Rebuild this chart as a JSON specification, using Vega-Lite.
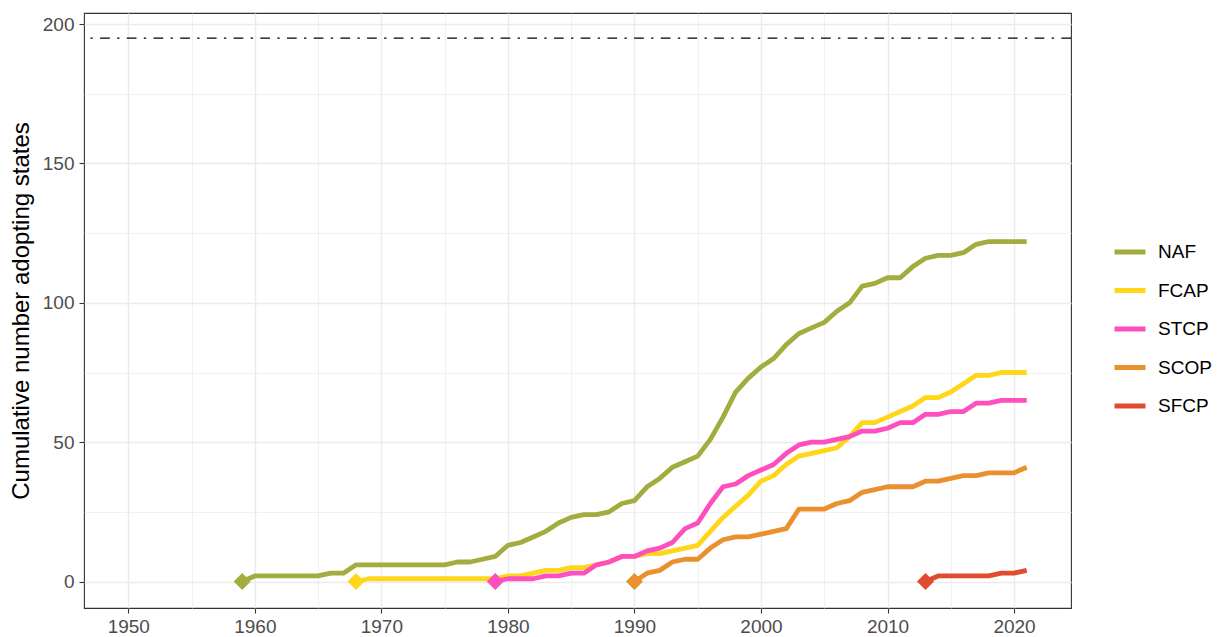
{
  "$schema": "https://vega.github.io/schema/vega-lite/v6.json",
  "width": 987,
  "height": 595,
  "autosize": {"type": "none"},
  "padding": {"left": 84, "top": 13, "right": 146, "bottom": 29},
  "background": "white",
  "config": {
    "font": "Liberation Sans",
    "view": {"stroke": "#333333", "strokeWidth": 1.1},
    "axis": {"domain": false, "grid": true, "gridColor": "#ebebeb"}
  },
  "datasets": {
    "lines": [
      {"series": "NAF", "year": 1959, "n": 0},
      {"series": "NAF", "year": 1960, "n": 2},
      {"series": "NAF", "year": 1961, "n": 2},
      {"series": "NAF", "year": 1962, "n": 2},
      {"series": "NAF", "year": 1963, "n": 2},
      {"series": "NAF", "year": 1964, "n": 2},
      {"series": "NAF", "year": 1965, "n": 2},
      {"series": "NAF", "year": 1966, "n": 3},
      {"series": "NAF", "year": 1967, "n": 3},
      {"series": "NAF", "year": 1968, "n": 6},
      {"series": "NAF", "year": 1969, "n": 6},
      {"series": "NAF", "year": 1970, "n": 6},
      {"series": "NAF", "year": 1971, "n": 6},
      {"series": "NAF", "year": 1972, "n": 6},
      {"series": "NAF", "year": 1973, "n": 6},
      {"series": "NAF", "year": 1974, "n": 6},
      {"series": "NAF", "year": 1975, "n": 6},
      {"series": "NAF", "year": 1976, "n": 7},
      {"series": "NAF", "year": 1977, "n": 7},
      {"series": "NAF", "year": 1978, "n": 8},
      {"series": "NAF", "year": 1979, "n": 9},
      {"series": "NAF", "year": 1980, "n": 13},
      {"series": "NAF", "year": 1981, "n": 14},
      {"series": "NAF", "year": 1982, "n": 16},
      {"series": "NAF", "year": 1983, "n": 18},
      {"series": "NAF", "year": 1984, "n": 21},
      {"series": "NAF", "year": 1985, "n": 23},
      {"series": "NAF", "year": 1986, "n": 24},
      {"series": "NAF", "year": 1987, "n": 24},
      {"series": "NAF", "year": 1988, "n": 25},
      {"series": "NAF", "year": 1989, "n": 28},
      {"series": "NAF", "year": 1990, "n": 29},
      {"series": "NAF", "year": 1991, "n": 34},
      {"series": "NAF", "year": 1992, "n": 37},
      {"series": "NAF", "year": 1993, "n": 41},
      {"series": "NAF", "year": 1994, "n": 43},
      {"series": "NAF", "year": 1995, "n": 45},
      {"series": "NAF", "year": 1996, "n": 51},
      {"series": "NAF", "year": 1997, "n": 59},
      {"series": "NAF", "year": 1998, "n": 68},
      {"series": "NAF", "year": 1999, "n": 73},
      {"series": "NAF", "year": 2000, "n": 77},
      {"series": "NAF", "year": 2001, "n": 80},
      {"series": "NAF", "year": 2002, "n": 85},
      {"series": "NAF", "year": 2003, "n": 89},
      {"series": "NAF", "year": 2004, "n": 91},
      {"series": "NAF", "year": 2005, "n": 93},
      {"series": "NAF", "year": 2006, "n": 97},
      {"series": "NAF", "year": 2007, "n": 100},
      {"series": "NAF", "year": 2008, "n": 106},
      {"series": "NAF", "year": 2009, "n": 107},
      {"series": "NAF", "year": 2010, "n": 109},
      {"series": "NAF", "year": 2011, "n": 109},
      {"series": "NAF", "year": 2012, "n": 113},
      {"series": "NAF", "year": 2013, "n": 116},
      {"series": "NAF", "year": 2014, "n": 117},
      {"series": "NAF", "year": 2015, "n": 117},
      {"series": "NAF", "year": 2016, "n": 118},
      {"series": "NAF", "year": 2017, "n": 121},
      {"series": "NAF", "year": 2018, "n": 122},
      {"series": "NAF", "year": 2019, "n": 122},
      {"series": "NAF", "year": 2020, "n": 122},
      {"series": "NAF", "year": 2021, "n": 122},
      {"series": "FCAP", "year": 1968, "n": 0},
      {"series": "FCAP", "year": 1969, "n": 1},
      {"series": "FCAP", "year": 1970, "n": 1},
      {"series": "FCAP", "year": 1971, "n": 1},
      {"series": "FCAP", "year": 1972, "n": 1},
      {"series": "FCAP", "year": 1973, "n": 1},
      {"series": "FCAP", "year": 1974, "n": 1},
      {"series": "FCAP", "year": 1975, "n": 1},
      {"series": "FCAP", "year": 1976, "n": 1},
      {"series": "FCAP", "year": 1977, "n": 1},
      {"series": "FCAP", "year": 1978, "n": 1},
      {"series": "FCAP", "year": 1979, "n": 1},
      {"series": "FCAP", "year": 1980, "n": 2},
      {"series": "FCAP", "year": 1981, "n": 2},
      {"series": "FCAP", "year": 1982, "n": 3},
      {"series": "FCAP", "year": 1983, "n": 4},
      {"series": "FCAP", "year": 1984, "n": 4},
      {"series": "FCAP", "year": 1985, "n": 5},
      {"series": "FCAP", "year": 1986, "n": 5},
      {"series": "FCAP", "year": 1987, "n": 6},
      {"series": "FCAP", "year": 1988, "n": 7},
      {"series": "FCAP", "year": 1989, "n": 9},
      {"series": "FCAP", "year": 1990, "n": 9},
      {"series": "FCAP", "year": 1991, "n": 10},
      {"series": "FCAP", "year": 1992, "n": 10},
      {"series": "FCAP", "year": 1993, "n": 11},
      {"series": "FCAP", "year": 1994, "n": 12},
      {"series": "FCAP", "year": 1995, "n": 13},
      {"series": "FCAP", "year": 1996, "n": 18},
      {"series": "FCAP", "year": 1997, "n": 23},
      {"series": "FCAP", "year": 1998, "n": 27},
      {"series": "FCAP", "year": 1999, "n": 31},
      {"series": "FCAP", "year": 2000, "n": 36},
      {"series": "FCAP", "year": 2001, "n": 38},
      {"series": "FCAP", "year": 2002, "n": 42},
      {"series": "FCAP", "year": 2003, "n": 45},
      {"series": "FCAP", "year": 2004, "n": 46},
      {"series": "FCAP", "year": 2005, "n": 47},
      {"series": "FCAP", "year": 2006, "n": 48},
      {"series": "FCAP", "year": 2007, "n": 52},
      {"series": "FCAP", "year": 2008, "n": 57},
      {"series": "FCAP", "year": 2009, "n": 57},
      {"series": "FCAP", "year": 2010, "n": 59},
      {"series": "FCAP", "year": 2011, "n": 61},
      {"series": "FCAP", "year": 2012, "n": 63},
      {"series": "FCAP", "year": 2013, "n": 66},
      {"series": "FCAP", "year": 2014, "n": 66},
      {"series": "FCAP", "year": 2015, "n": 68},
      {"series": "FCAP", "year": 2016, "n": 71},
      {"series": "FCAP", "year": 2017, "n": 74},
      {"series": "FCAP", "year": 2018, "n": 74},
      {"series": "FCAP", "year": 2019, "n": 75},
      {"series": "FCAP", "year": 2020, "n": 75},
      {"series": "FCAP", "year": 2021, "n": 75},
      {"series": "STCP", "year": 1979, "n": 0},
      {"series": "STCP", "year": 1980, "n": 1},
      {"series": "STCP", "year": 1981, "n": 1},
      {"series": "STCP", "year": 1982, "n": 1},
      {"series": "STCP", "year": 1983, "n": 2},
      {"series": "STCP", "year": 1984, "n": 2},
      {"series": "STCP", "year": 1985, "n": 3},
      {"series": "STCP", "year": 1986, "n": 3},
      {"series": "STCP", "year": 1987, "n": 6},
      {"series": "STCP", "year": 1988, "n": 7},
      {"series": "STCP", "year": 1989, "n": 9},
      {"series": "STCP", "year": 1990, "n": 9},
      {"series": "STCP", "year": 1991, "n": 11},
      {"series": "STCP", "year": 1992, "n": 12},
      {"series": "STCP", "year": 1993, "n": 14},
      {"series": "STCP", "year": 1994, "n": 19},
      {"series": "STCP", "year": 1995, "n": 21},
      {"series": "STCP", "year": 1996, "n": 28},
      {"series": "STCP", "year": 1997, "n": 34},
      {"series": "STCP", "year": 1998, "n": 35},
      {"series": "STCP", "year": 1999, "n": 38},
      {"series": "STCP", "year": 2000, "n": 40},
      {"series": "STCP", "year": 2001, "n": 42},
      {"series": "STCP", "year": 2002, "n": 46},
      {"series": "STCP", "year": 2003, "n": 49},
      {"series": "STCP", "year": 2004, "n": 50},
      {"series": "STCP", "year": 2005, "n": 50},
      {"series": "STCP", "year": 2006, "n": 51},
      {"series": "STCP", "year": 2007, "n": 52},
      {"series": "STCP", "year": 2008, "n": 54},
      {"series": "STCP", "year": 2009, "n": 54},
      {"series": "STCP", "year": 2010, "n": 55},
      {"series": "STCP", "year": 2011, "n": 57},
      {"series": "STCP", "year": 2012, "n": 57},
      {"series": "STCP", "year": 2013, "n": 60},
      {"series": "STCP", "year": 2014, "n": 60},
      {"series": "STCP", "year": 2015, "n": 61},
      {"series": "STCP", "year": 2016, "n": 61},
      {"series": "STCP", "year": 2017, "n": 64},
      {"series": "STCP", "year": 2018, "n": 64},
      {"series": "STCP", "year": 2019, "n": 65},
      {"series": "STCP", "year": 2020, "n": 65},
      {"series": "STCP", "year": 2021, "n": 65},
      {"series": "SCOP", "year": 1990, "n": 0},
      {"series": "SCOP", "year": 1991, "n": 3},
      {"series": "SCOP", "year": 1992, "n": 4},
      {"series": "SCOP", "year": 1993, "n": 7},
      {"series": "SCOP", "year": 1994, "n": 8},
      {"series": "SCOP", "year": 1995, "n": 8},
      {"series": "SCOP", "year": 1996, "n": 12},
      {"series": "SCOP", "year": 1997, "n": 15},
      {"series": "SCOP", "year": 1998, "n": 16},
      {"series": "SCOP", "year": 1999, "n": 16},
      {"series": "SCOP", "year": 2000, "n": 17},
      {"series": "SCOP", "year": 2001, "n": 18},
      {"series": "SCOP", "year": 2002, "n": 19},
      {"series": "SCOP", "year": 2003, "n": 26},
      {"series": "SCOP", "year": 2004, "n": 26},
      {"series": "SCOP", "year": 2005, "n": 26},
      {"series": "SCOP", "year": 2006, "n": 28},
      {"series": "SCOP", "year": 2007, "n": 29},
      {"series": "SCOP", "year": 2008, "n": 32},
      {"series": "SCOP", "year": 2009, "n": 33},
      {"series": "SCOP", "year": 2010, "n": 34},
      {"series": "SCOP", "year": 2011, "n": 34},
      {"series": "SCOP", "year": 2012, "n": 34},
      {"series": "SCOP", "year": 2013, "n": 36},
      {"series": "SCOP", "year": 2014, "n": 36},
      {"series": "SCOP", "year": 2015, "n": 37},
      {"series": "SCOP", "year": 2016, "n": 38},
      {"series": "SCOP", "year": 2017, "n": 38},
      {"series": "SCOP", "year": 2018, "n": 39},
      {"series": "SCOP", "year": 2019, "n": 39},
      {"series": "SCOP", "year": 2020, "n": 39},
      {"series": "SCOP", "year": 2021, "n": 41},
      {"series": "SFCP", "year": 2013, "n": 0},
      {"series": "SFCP", "year": 2014, "n": 2},
      {"series": "SFCP", "year": 2015, "n": 2},
      {"series": "SFCP", "year": 2016, "n": 2},
      {"series": "SFCP", "year": 2017, "n": 2},
      {"series": "SFCP", "year": 2018, "n": 2},
      {"series": "SFCP", "year": 2019, "n": 3},
      {"series": "SFCP", "year": 2020, "n": 3},
      {"series": "SFCP", "year": 2021, "n": 4}
    ],
    "starts": [
      {"series": "NAF", "year": 1959, "n": 0},
      {"series": "FCAP", "year": 1968, "n": 0},
      {"series": "STCP", "year": 1979, "n": 0},
      {"series": "SCOP", "year": 1990, "n": 0},
      {"series": "SFCP", "year": 2013, "n": 0}
    ],
    "reference": [
      {"level": 195}
    ]
  },
  "encoding": {
    "x": {
      "field": "year",
      "type": "quantitative",
      "scale": {"domain": [1946.5, 2024.5], "nice": false, "zero": false},
      "axis": {
        "title": null,
        "values": [1950, 1955, 1960, 1965, 1970, 1975, 1980, 1985, 1990, 1995, 2000, 2005, 2010, 2015, 2020],
        "format": "d",
        "labelExpr": "datum.value % 10 === 0 ? datum.label : ''",
        "labelFontSize": 19,
        "labelColor": "#4d4d4d",
        "labelPadding": 4,
        "tickColor": "#333333",
        "tickSize": 5,
        "tickWidth": 1.1,
        "tickOpacity": {"condition": {"test": "datum.value % 10 === 0", "value": 1}, "value": 0},
        "gridWidth": {"condition": {"test": "datum.value % 10 === 0", "value": 1.4}, "value": 0.7},
        "labelOverlap": false
      }
    },
    "y": {
      "field": "n",
      "type": "quantitative",
      "scale": {"domain": [-9.5, 204], "nice": false, "zero": false},
      "axis": {
        "title": "Cumulative number adopting states",
        "titleFontSize": 24,
        "titleFontWeight": "normal",
        "titleColor": "black",
        "titlePadding": 9,
        "values": [0, 25, 50, 75, 100, 125, 150, 175, 200],
        "labelExpr": "datum.value % 50 === 0 ? datum.label : ''",
        "labelFontSize": 19,
        "labelColor": "#4d4d4d",
        "labelPadding": 5,
        "tickColor": "#333333",
        "tickSize": 5,
        "tickWidth": 1.1,
        "tickOpacity": {"condition": {"test": "datum.value % 50 === 0", "value": 1}, "value": 0},
        "gridWidth": {"condition": {"test": "datum.value % 50 === 0", "value": 1.4}, "value": 0.7},
        "labelOverlap": false
      }
    }
  },
  "layer": [
    {
      "data": {"name": "reference"},
      "mark": {"type": "rule", "color": "black", "strokeWidth": 1.2, "strokeDash": [9.7, 7.3, 2.4, 7.3]},
      "encoding": {
        "x": null,
        "y": {"field": "level", "type": "quantitative"}
      }
    },
    {
      "data": {"name": "lines"},
      "mark": {"type": "line", "strokeWidth": 4.8, "strokeJoin": "round", "strokeCap": "butt"},
      "encoding": {
        "color": {
          "field": "series",
          "type": "nominal",
          "scale": {
            "domain": ["NAF", "FCAP", "STCP", "SCOP", "SFCP"],
            "range": ["#a3ad3f", "#ffd619", "#fd4fbe", "#ea902f", "#e04c30"]
          },
          "legend": {
            "title": null,
            "orient": "none",
            "legendX": 1028,
            "legendY": 221,
            "symbolType": "stroke",
            "symbolSize": 961,
            "symbolStrokeWidth": 5,
            "labelFontSize": 19,
            "labelColor": "black",
            "labelOffset": 10,
            "rowPadding": 10.5,
            "padding": 0
          }
        }
      }
    },
    {
      "data": {"name": "starts"},
      "mark": {"type": "point", "shape": "diamond", "filled": true, "size": 290, "opacity": 1},
      "encoding": {
        "fill": {
          "field": "series",
          "type": "nominal",
          "scale": {
            "domain": ["NAF", "FCAP", "STCP", "SCOP", "SFCP"],
            "range": ["#a3ad3f", "#ffd619", "#fd4fbe", "#ea902f", "#e04c30"]
          },
          "legend": null
        }
      }
    }
  ]
}
